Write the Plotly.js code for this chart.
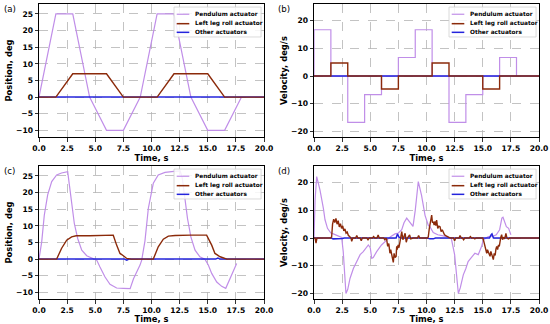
<!DOCTYPE html>
<html>
<head>
<meta charset="utf-8">
<script src="https://cdn.plot.ly/plotly-3.0.1.min.js"></script>
<style>
  html, body { margin: 0; padding: 0; background: #ffffff; }
  #chart { width: 550px; height: 324px; }
</style>
</head>
<body>
<div id="chart"></div>
<script>
// ---------- Series names ----------
const seriesNames = ["Pendulum actuator", "Left leg roll actuator", "Other actuators"];
const panelLabels = ["(a)", "(b)", "(c)", "(d)"];
const xTitle = "Time, s";
const yTitles = ["Position, deg", "Velocity, deg/s", "Position, deg", "Velocity, deg/s"];

// ---------- Panel (a): planned position ----------
const aPendTime = [0, 1.5, 3, 4.5, 6, 7.5, 9, 10.5, 12, 13.5, 15, 16.5, 18];
const aPendPos  = [0, 25, 25, 0, -10, -10, 0, 25, 25, 0, -10, -10, 0];
const aLegTime  = [0, 1.5, 3, 6, 7.5, 10.5, 12, 15, 16.5, 20];
const aLegPos   = [0, 0, 7, 7, 0, 0, 7, 7, 0, 0];
const aOtherTime = [0, 20];
const aOtherPos  = [0, 0];

// ---------- Panel (b): planned velocity (steps) ----------
const bPendTime = [0, 0, 1.5, 3, 4.5, 6, 7.5, 9, 10.5, 12, 13.5, 15, 16.5, 18];
const bPendVel  = [0, 16.7, 0, -16.7, -6.7, 0, 6.7, 16.7, 0, -16.7, -6.7, 0, 6.7, 0];
const bLegTime  = [0, 1.5, 3, 6, 7.5, 10.5, 12, 15, 16.5, 20];
const bLegVel   = [0, 4.7, 0, -4.7, 0, 4.7, 0, -4.7, 0, 0];
const bOtherTime = [0, 20];
const bOtherVel  = [0, 0];

// ---------- Panel (c): measured position ----------
const cPendTime = [0, 0.24, 0.47, 0.77, 1.13, 1.57, 2.0, 2.3, 2.55, 2.7, 2.9, 3.14, 3.44, 3.8, 4.24, 4.83, 5.13, 5.42, 5.87, 6.31, 6.9, 7.5, 8.1, 8.4, 8.7, 8.98, 9.13, 9.42, 9.72, 9.87, 10.16, 10.6, 11.2, 12.0, 12.55, 12.74, 12.98, 13.2, 13.5, 13.87, 14.3, 14.75, 15.05, 15.35, 15.8, 16.24, 16.6, 16.98, 17.27, 17.57];
const cPendPos  = [0, 5.2, 13.2, 19.3, 23.3, 25.3, 25.9, 26.1, 26.3, 22.3, 16.3, 10.7, 6.2, 2.7, 1.0, 0.2, -0.3, -2.4, -5.4, -7.6, -8.7, -8.8, -8.9, -5.9, -3.9, -1.8, -0.3, 5.5, 15.3, 18.3, 22.8, 25.3, 26.1, 26.4, 26.5, 24.3, 18.3, 12.2, 6.7, 2.7, 0.7, 0, -1.8, -4.3, -6.9, -8.2, -8.8, -5.9, -3.4, -1.3];
const cLegTime  = [0, 1.57, 2.0, 2.46, 2.9, 3.3, 4.5, 5.5, 6.6, 6.9, 7.2, 7.5, 7.8, 8.2, 10.16, 10.6, 11.05, 11.5, 12.1, 13.5, 14.9, 15.35, 15.64, 16.1, 16.7, 20];
const cLegPos   = [0, 0, 3.2, 5.7, 6.7, 7.0, 7.0, 7.1, 7.2, 4.2, 1.7, 1.0, 0.2, 0, 0, 3.7, 6.0, 6.9, 7.1, 7.2, 7.2, 4.2, 1.7, 0.7, 0, 0];
const cOtherTime = [0, 7.6, 7.8, 8.0, 15.7, 15.9, 16.1, 20];
const cOtherPos  = [0, 0, -0.3, 0, 0, 0.3, 0, 0];

// ---------- Panel (d): measured velocity ----------
const dPendTime = [0, 0.1, 0.24, 0.53, 0.83, 0.98, 1.2, 1.5, 1.72, 2.0, 2.3, 2.46, 2.6, 2.76, 2.84, 3.0, 3.2, 3.5, 3.8, 4.1, 4.38, 4.6, 4.83, 5.0, 5.13, 5.27, 5.57, 6.0, 6.46, 6.8, 7.2, 7.5, 7.8, 8.0, 8.24, 8.53, 8.8, 9.0, 9.27, 9.56, 9.87, 10.16, 10.3, 10.6, 11.0, 11.5, 12.0, 12.2, 12.5, 12.83, 13.0, 13.27, 13.5, 13.7, 14.0, 14.3, 14.6, 14.9, 15.05, 15.5, 16.0, 16.2, 16.5, 16.7, 16.8, 17.1, 17.3, 17.5];
const dPendVel  = [0, 14, 22.2, 17.4, 10.8, 6.6, 3.5, 1.8, 1.5, 1.0, 0.5, 0.2, -5, -15, -20, -18.5, -14.6, -11, -8.5, -6, -4.9, -3.5, -2.5, -3.5, -7.3, -7.0, -4.9, -2.5, -0.6, 0.5, 1.5, 1.8, 3.0, 5.5, 7.2, 5.4, 4.2, 10, 20.4, 15.4, 8.2, 4.6, 4.1, 2.0, 1.2, 0.8, 0.3, 0, -6, -20, -18, -13.3, -11, -8.5, -7, -5.5, -6, -3, -0.6, 0.5, 0.8, 1.2, 3, 7.2, 7.5, 4.1, 3.5, 1.2];
const dLegTime = [0, 0.1, 0.18, 0.26, 1.5, 1.57, 1.65, 1.75, 1.85, 1.95, 2.05, 2.15, 2.25, 2.35, 2.45, 2.55, 2.65, 2.75, 2.85, 2.95, 3.05, 3.2, 3.3, 3.35, 3.45, 3.7, 3.8, 3.9, 4.1, 4.2, 4.3, 4.7, 4.8, 4.9, 5.2, 5.3, 5.4, 5.6, 5.7, 5.8, 6.2, 6.3, 6.4, 6.46, 6.55, 6.65, 6.75, 6.82, 6.9, 7.0, 7.05, 7.12, 7.2, 7.3, 7.35, 7.4, 7.48, 7.55, 7.65, 7.8, 7.9, 8.1, 8.2, 8.3, 8.5, 8.6, 8.8, 9.2, 9.3, 9.4, 10.1, 10.16, 10.25, 10.31, 10.4, 10.46, 10.53, 10.6, 10.68, 10.75, 10.83, 10.9, 11.0, 11.1, 11.2, 11.3, 11.4, 11.5, 11.6, 11.75, 11.9, 12.1, 12.4, 12.5, 12.6, 12.9, 12.98, 13.1, 13.2, 13.3, 13.4, 13.8, 13.9, 14.0, 14.2, 14.3, 14.4, 15.0, 15.05, 15.12, 15.2, 15.28, 15.35, 15.42, 15.5, 15.58, 15.65, 15.72, 15.8, 15.87, 15.94, 16.02, 16.1, 16.17, 16.24, 16.32, 16.4, 16.47, 16.53, 16.6, 16.68, 16.76, 16.85, 16.95, 17.06, 17.15, 17.28, 17.4, 20];
const dLegVel  = [0, 0, -1.8, 0, 0, 0.5, 5.0, 6.8, 5.6, 7.1, 5.0, 6.3, 4.0, 5.2, 3.5, 4.4, 2.6, 3.3, 1.8, 2.2, 1.0, 0.5, 0, -1.2, 0, 0, 0.9, 0, 0, -1.0, 0, 0, -0.6, 0, 0, 0.5, 0, 0, 1.1, 0, 0, -0.6, 0, -0.5, -3.0, -2.0, -5.5, -4.2, -6.5, -7.8, -8.8, -5.5, -7.0, -6.6, -3.0, -4.2, -2.5, -3.5, -1.2, 2.3, -0.6, 1.7, -1.5, 0, 1.1, -0.3, 0, 0, 0.9, 0, 0, 0.5, 3.5, 5.3, 6.8, 8.3, 5.5, 5.9, 4.7, 6.0, 4.5, 6.5, 3.5, 4.3, 4.1, 2.3, 3.0, 1.8, 1.2, 0.8, 0.5, 0, 0, -1.0, 0, 0, 0.9, 0, 0, -0.6, 0, 0, 0.5, 0, 0, -0.3, 0, 0, -0.5, -1.5, -2.4, -3.8, -5.5, -4.2, -5.0, -6.0, -6.6, -4.8, -6.2, -7.0, -7.8, -5.5, -6.3, -4.0, -3.0, -4.2, -2.5, -3.0, -1.2, 0.2, 1.2, -0.6, 0.3, -0.3, 1.7, 0, -0.3, 0, 0];
const dOtherTime = [0, 1.55, 1.7, 2.0, 2.5, 2.7, 7.3, 7.42, 7.55, 7.7, 10.1, 10.3, 10.6, 10.8, 15.6, 15.75, 15.82, 15.95, 20];
const dOtherVel  = [0, 0, -0.3, -0.3, -0.2, 0, 0, 1.5, 0.3, 0, 0, -0.3, -0.3, 0, 0, 1.2, 1.5, 0, 0];

// ---------- Styling ----------
const colPend = "#c08ee8";
const colLeg = "#8b2a0a";
const colOther = "#2424dc";
const FONT = "DejaVu Sans, sans-serif";

const panels = [
  {ax: "", pend: [aPendTime, aPendPos], leg: [aLegTime, aLegPos], oth: [aOtherTime, aOtherPos], step: false},
  {ax: "2", pend: [bPendTime, bPendVel], leg: [bLegTime, bLegVel], oth: [bOtherTime, bOtherVel], step: true},
  {ax: "3", pend: [cPendTime, cPendPos], leg: [cLegTime, cLegPos], oth: [cOtherTime, cOtherPos], step: false},
  {ax: "4", pend: [dPendTime, dPendVel], leg: [dLegTime, dLegVel], oth: [dOtherTime, dOtherVel], step: false}
];

const traces = [];
panels.forEach(p => {
  const xa = "x" + p.ax, ya = "y" + p.ax;
  const shape = p.step ? "hv" : "linear";
  traces.push({x: p.pend[0], y: p.pend[1], xaxis: xa, yaxis: ya, type: "scatter", mode: "lines",
    name: seriesNames[0], showlegend: false, line: {color: colPend, width: 1.2, shape: shape}, hoverinfo: "skip"});
  traces.push({x: p.oth[0], y: p.oth[1], xaxis: xa, yaxis: ya, type: "scatter", mode: "lines",
    name: seriesNames[2], showlegend: false, line: {color: colOther, width: 1.5}, hoverinfo: "skip"});
  traces.push({x: p.leg[0], y: p.leg[1], xaxis: xa, yaxis: ya, type: "scatter", mode: "lines",
    name: seriesNames[1], showlegend: false, line: {color: colLeg, width: 1.4, shape: shape}, hoverinfo: "skip"});
});

const W = 550, H = 324;
const xDomL = [39 / W, 264 / W], xDomR = [314 / W, 539 / W];
const yDomT = [1 - 137 / H, 1 - 4 / H], yDomB = [1 - 299 / H, 1 - 166 / H];

function xaxis(domain, anchor) {
  return {
    domain: domain, anchor: anchor, range: [0, 20], tick0: 0, dtick: 2.5, tickformat: ".1f",
    showgrid: true, gridcolor: "#b4b4b4", gridwidth: 0.8, griddash: "dash", zeroline: false,
    showline: true, linecolor: "#000", linewidth: 1, mirror: true,
    ticks: "outside", ticklen: 3.5, tickwidth: 0.8, tickcolor: "#000",
    tickfont: {family: FONT, size: 7.6, color: "#000", weight: "bold"},
    title: {text: xTitle, font: {family: FONT, size: 8.4, color: "#000", weight: "bold"}, standoff: 2},
    fixedrange: true
  };
}
function yaxis(domain, anchor, range, dtick, title) {
  return {
    domain: domain, anchor: anchor, range: range, tick0: 0, dtick: dtick,
    showgrid: true, gridcolor: "#b4b4b4", gridwidth: 0.8, griddash: "dash", zeroline: false,
    showline: true, linecolor: "#000", linewidth: 1, mirror: true,
    ticks: "outside", ticklen: 3.5, tickwidth: 0.8, tickcolor: "#000",
    tickfont: {family: FONT, size: 7.6, color: "#000", weight: "bold"},
    title: {text: title, font: {family: FONT, size: 8.4, color: "#000", weight: "bold"}, standoff: 2},
    fixedrange: true
  };
}

const shapes = [];
const annotations = [];
const legendCols = [colPend, colLeg, colOther];
const rowY = [0.923, 0.852, 0.787];
panels.forEach((p, i) => {
  const xr = "x" + p.ax + " domain", yr = "y" + p.ax + " domain";
  shapes.push({type: "rect", xref: xr, yref: yr, x0: 0.6, x1: 0.987, y0: 0.752, y1: 0.977,
    line: {color: "#d0d0d0", width: 0.8}, fillcolor: "rgba(255,255,255,0.85)", layer: "above"});
  seriesNames.forEach((nm, k) => {
    shapes.push({type: "line", xref: xr, yref: yr, x0: 0.612, x1: 0.668, y0: rowY[k], y1: rowY[k],
      line: {color: legendCols[k], width: k === 0 ? 1.2 : 1.5}, layer: "above"});
    annotations.push({xref: xr, yref: yr, x: 0.683, y: rowY[k], xanchor: "left", yanchor: "middle",
      text: nm, showarrow: false, font: {family: FONT, size: 5.8, color: "#000", weight: "bold"}});
  });
});
const labelPos = [[9.5, 8.5], [284.5, 8.5], [9.5, 170.5], [284.5, 170.5]];
panelLabels.forEach((t, i) => {
  annotations.push({xref: "paper", yref: "paper", x: labelPos[i][0] / W, y: 1 - labelPos[i][1] / H,
    xanchor: "center", yanchor: "middle", text: t, showarrow: false,
    font: {family: FONT, size: 8.6, color: "#000"}});
});

const layout = {
  width: W, height: H,
  margin: {l: 0, r: 0, t: 0, b: 0, pad: 0},
  paper_bgcolor: "#fff", plot_bgcolor: "#fff",
  showlegend: false,
  font: {family: FONT, color: "#000"},
  xaxis: xaxis(xDomL, "y"),
  yaxis: yaxis(yDomT, "x", [-12, 28], 5, yTitles[0]),
  xaxis2: xaxis(xDomR, "y2"),
  yaxis2: yaxis(yDomT, "x2", [-22, 26], 10, yTitles[1]),
  xaxis3: xaxis(xDomL, "y3"),
  yaxis3: yaxis(yDomB, "x3", [-12, 28], 5, yTitles[2]),
  xaxis4: xaxis(xDomR, "y4"),
  yaxis4: yaxis(yDomB, "x4", [-22, 26], 10, yTitles[3]),
  shapes: shapes,
  annotations: annotations
};

Plotly.newPlot("chart", traces, layout, {staticPlot: true, displayModeBar: false});
</script>
</body>
</html>
